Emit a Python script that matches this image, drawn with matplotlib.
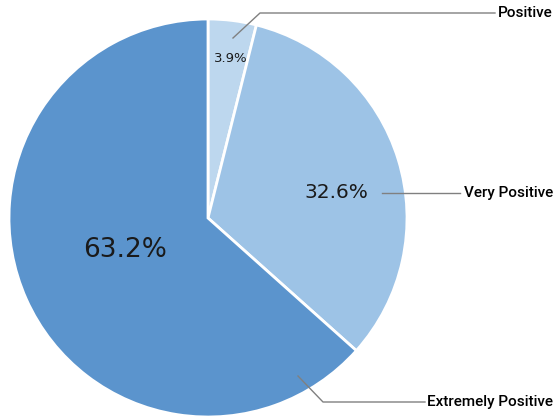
import matplotlib.pyplot as plt

categories = ['Positive', 'Very Positive', 'Extremely Positive']
shares = [3.9, 32.6, 63.2]
pct_labels = ['3.9%', '32.6%', '63.2%']
colors = ['#bdd7ee', '#9dc3e6', '#5b94cd']

W, H = 560, 420
fig = plt.figure(figsize=(W / 100, H / 100), dpi=100)

cx, cy, r = 208, 218, 199
ax = fig.add_axes([(cx - r) / W, (H - cy - r) / H, 2 * r / W, 2 * r / H])

wedges, _ = ax.pie(shares, colors=colors, startangle=90, counterclock=False,
                   radius=1, normalize=True,
                   wedgeprops=dict(edgecolor='white', linewidth=2))
# pie() resets the limits, so set them afterwards
ax.set_xlim(-1, 1)
ax.set_ylim(-1, 1)
ax.axis('off')


def px(x, y):
    # pixel coordinates (top-left origin) -> data coordinates of the pie axes
    return (x - cx) / r, (cy - y) / r


# percentage labels inside the slices
pct_pos = [(231, 58), (336, 193), (125, 250)]
pct_size = [9.5, 14.5, 19]
for lab, (x, y), s in zip(pct_labels, pct_pos, pct_size):
    ax.text(*px(x, y), lab, ha='center', va='center', fontsize=s,
            color='#1a1a1a', family=['DejaVu Sans'])

# leader lines and category labels
leaders = [
    [(233, 38), (260, 13), (495, 13)],
    [(382, 193), (460, 193)],
    [(298, 376), (323, 402), (425, 402)],
]
label_y = [13, 193, 402]
for name, pts, y in zip(categories, leaders, label_y):
    xs, ys = zip(*[px(*p) for p in pts])
    ax.plot(xs, ys, color='#808080', lw=1, clip_on=False)
    ax.text(*px(553, y), name, ha='right', va='center', fontsize=11,
            color='black', fontweight='medium',
            family=['Roboto', 'DejaVu Sans'], clip_on=False)

fig.savefig('out.png', dpi=100)
